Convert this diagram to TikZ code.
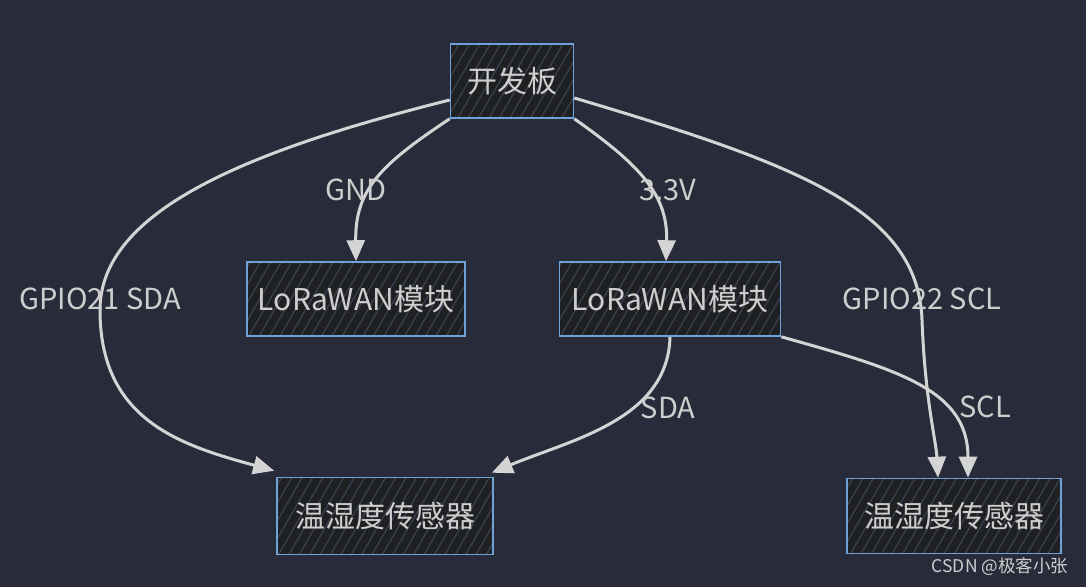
\documentclass[tikz,border=0pt]{standalone}
\usepackage{fontspec}
\setmainfont{Noto Sans CJK SC}
\usetikzlibrary{arrows.meta,patterns.meta}
\definecolor{bgc}{RGB}{40,44,58}
\definecolor{boxc}{RGB}{31,32,34}
\definecolor{edgec}{RGB}{110,162,216}
\definecolor{linec}{RGB}{212,212,212}
\definecolor{txtc}{RGB}{206,206,206}
\definecolor{hatchc}{RGB}{60,66,84}

\begin{document}
\begin{tikzpicture}[
  x=1pt, y=1pt,
  font=\fontsize{29}{33}\selectfont,
  blk/.style={draw=edgec, line width=1.6pt, text=txtc, minimum height=74pt,
              align=center, inner sep=0pt, font=\fontsize{30}{34}\selectfont,
              preaction={fill=boxc},
              preaction={pattern={Lines[angle=60,distance=9pt,line width=1.2pt]}, pattern color=hatchc}},
  lbl/.style={text=txtc, inner sep=1pt},
  ar/.style={draw=linec, line width=3pt, -{Triangle[length=21pt,width=18pt]}},
]
\useasboundingbox[fill=bgc] (0,0) rectangle (1086,-587);

%% ---------- boxes ----------
\node[blk, minimum width=123pt] (board) at (512,-81) {开发板};
\node[blk, minimum width=218pt] (loraA) at (356,-299) {LoRaWAN模块};
\node[blk, minimum width=221pt] (loraB) at (670,-299) {LoRaWAN模块};
\node[blk, minimum width=216pt, minimum height=77pt] (sensA) at (385,-516) {温湿度传感器};
\node[blk, minimum width=214pt, minimum height=75pt] (sensB) at (954,-516) {温湿度传感器};

%% ---------- wires ----------
\draw[ar] (board.south west) .. controls (380,-165) and (355,-190) .. (loraA.north);
\draw[ar] (board.south east) .. controls (640,-165) and (668,-195) .. ([xshift=-4]loraB.north);
\draw[ar] ([yshift=-19]board.west) .. controls (250,-150) and (100,-210) .. (100,-310)
  .. controls (100,-420) and (180,-445) .. ([xshift=-2,yshift=6]sensA.north west);
\draw[ar] ([yshift=-17]board.east) .. controls (800,-165) and (918,-210) .. (922,-320)
  .. controls (925,-400) and (936,-440) .. ([xshift=-16]sensB.north);
\draw[ar] (loraB.south) .. controls (668,-420) and (570,-440) .. ([xshift=-2,yshift=4]sensA.north east);
\draw[ar] (loraB.south east) .. controls (900,-370) and (968,-390) .. ([xshift=14]sensB.north);

%% ---------- labels ----------
\node[lbl] (gnd) at (356,-190) {GND};
\node[lbl] (vcc) at (668,-190) {3.3V};
\node[lbl] (sdaA) at (100,-299) {GPIO21 SDA};
\node[lbl] (sclA) at (922,-299) {GPIO22 SCL};
\node[lbl] (sdaB) at (668,-408) {SDA};
\node[lbl] (sclB) at (985,-407) {SCL};
\node[text=txtc, font=\fontsize{17.5}{20}\selectfont] (mark) at (1000,-567) {CSDN @极客小张};

\end{tikzpicture}
\end{document}
